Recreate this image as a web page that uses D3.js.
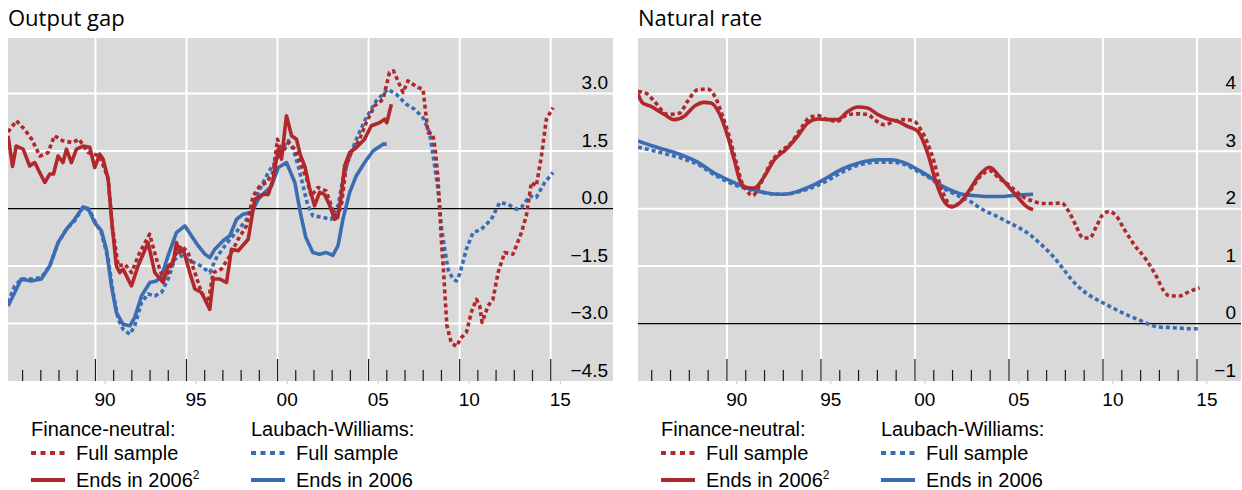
<!DOCTYPE html>
<html>
<head>
<meta charset="utf-8">
<script src="https://cdn.jsdelivr.net/npm/d3@7"></script>
<style>
  html, body { margin: 0; padding: 0; background: #fff; }
  svg { display: block; }
</style>
</head>
<body>
<div id="chart"></div>
<script>
// Output gap (percentage points), [year, value]
const gapFnFull = [
  [1985.2, 2.0], [1985.45, 2.15], [1985.66, 2.29], [1986.1, 2.07], [1986.5, 1.81],
  [1986.95, 1.37], [1987.4, 1.46], [1987.75, 1.9], [1988.2, 1.77], [1988.75, 1.72],
  [1989.1, 1.81], [1989.6, 1.46], [1990.24, 1.37], [1990.7, 0.77], [1990.92, -0.45],
  [1991.25, -1.5], [1991.62, -1.45], [1991.98, -1.67], [1992.43, -1.15], [1992.98, -0.67],
  [1993.35, -1.32], [1993.72, -1.84], [1993.99, -1.67], [1994.36, -1.23], [1994.73, -0.97],
  [1995.09, -1.15], [1995.46, -1.67], [1995.82, -2.19], [1996.19, -2.45], [1996.47, -1.67],
  [1996.92, -1.58], [1997.38, -1.23], [1997.84, -0.8], [1998.3, -0.45], [1998.66, 0.33],
  [1999.03, 0.59], [1999.4, 0.68], [1999.76, 0.94], [2000.0, 1.81], [2000.22, 1.42],
  [2000.59, 1.72], [2000.95, 1.55], [2001.32, 1.11], [2001.6, 0.77], [2001.85, 0.33],
  [2002.22, 0.55], [2002.67, 0.46], [2002.95, 0.07], [2003.22, -0.28], [2003.5, 0.07],
  [2003.77, 1.11], [2004.05, 1.46], [2004.51, 1.81], [2004.87, 2.24], [2005.33, 2.68],
  [2005.79, 2.85], [2006.15, 3.55], [2006.37, 3.59], [2006.61, 3.33], [2006.89, 3.03],
  [2007.16, 3.33], [2007.44, 3.24], [2007.71, 3.16], [2007.99, 3.11], [2008.26, 1.98],
  [2008.53, 1.94], [2008.68, 1.46], [2008.81, 0.77], [2008.9, 0.07], [2008.99, -0.8],
  [2009.12, -1.67], [2009.23, -2.54], [2009.3, -3.06], [2009.54, -3.5], [2009.82, -3.6],
  [2010.09, -3.37], [2010.37, -3.23], [2010.64, -2.71], [2010.92, -2.37], [2011.1, -2.54],
  [2011.23, -2.97], [2011.56, -2.54], [2011.83, -2.37], [2012.11, -1.67], [2012.47, -1.15],
  [2012.93, -1.19], [2013.39, -0.63], [2013.66, -0.19], [2013.94, 0.68], [2014.21, 0.59],
  [2014.49, 1.37], [2014.76, 2.33], [2015.13, 2.63]
];

const gapFn2006 = [
  [1985.2, 1.9], [1985.45, 1.1], [1985.65, 1.63], [1986.03, 1.55], [1986.39, 1.11],
  [1986.67, 1.2], [1986.94, 0.94], [1987.22, 0.68], [1987.49, 0.9], [1987.7, 0.9],
  [1987.95, 1.37], [1988.22, 1.2], [1988.41, 1.55], [1988.68, 1.2], [1988.96, 1.55],
  [1989.32, 1.63], [1989.69, 1.6], [1989.96, 1.07], [1990.24, 1.42], [1990.42, 1.29],
  [1990.7, 0.77], [1990.92, -0.45], [1991.15, -1.5], [1991.34, -1.67], [1991.52, -1.58],
  [1991.98, -2.02], [1992.34, -1.5], [1992.89, -0.89], [1993.26, -1.67], [1993.72, -1.93],
  [1993.99, -1.5], [1994.27, -1.41], [1994.45, -0.89], [1994.63, -1.15], [1994.82, -1.06],
  [1995.18, -1.67], [1995.46, -2.1], [1995.82, -2.19], [1996.28, -2.63], [1996.47, -1.84],
  [1996.83, -1.84], [1997.2, -1.93], [1997.47, -1.06], [1997.84, -1.1], [1998.39, -0.8],
  [1998.75, 0.24], [1999.21, 0.37], [1999.49, 0.37], [1999.76, 0.77], [2000.04, 1.55],
  [2000.22, 1.29], [2000.49, 2.42], [2000.77, 1.9], [2001.04, 1.81], [2001.25, 1.4],
  [2001.5, 1.1], [2001.75, 0.55], [2002.03, 0.07], [2002.31, 0.42], [2002.58, 0.37],
  [2002.85, 0.1], [2003.13, -0.28], [2003.3, -0.23], [2003.5, 0.33], [2003.68, 1.11],
  [2003.96, 1.46], [2004.23, 1.55], [2004.78, 1.81], [2005.15, 2.16], [2005.6, 2.24],
  [2005.88, 2.33], [2006.0, 2.24], [2006.25, 2.72]
];

const gapLwFull = [
  [1985.2, -2.45], [1985.57, -2.02], [1985.93, -1.84], [1986.48, -1.84], [1987.03, -1.8],
  [1987.49, -1.5], [1987.95, -0.89], [1988.41, -0.54], [1988.86, -0.32], [1989.32, 0.03],
  [1989.69, -0.05], [1990.05, -0.41], [1990.33, -0.63], [1990.7, -1.32], [1990.97, -2.19],
  [1991.25, -2.89], [1991.52, -3.15], [1991.89, -3.28], [1992.16, -3.06], [1992.53, -2.45],
  [1992.89, -2.23], [1993.26, -2.28], [1993.63, -2.19], [1993.99, -1.84], [1994.36, -1.32],
  [1994.73, -1.23], [1995.18, -1.37], [1995.64, -1.45], [1996.01, -1.58], [1996.28, -1.67],
  [1996.65, -1.28], [1997.11, -0.97], [1997.56, -0.71], [1998.02, -0.45], [1998.39, -0.23],
  [1998.75, 0.2], [1999.12, 0.59], [1999.49, 0.94], [1999.85, 1.2], [2000.22, 1.55],
  [2000.59, 1.77], [2000.86, 1.55], [2001.14, 1.1], [2001.4, 0.6], [2001.65, 0.1],
  [2001.94, -0.19], [2002.49, -0.23], [2002.95, -0.28], [2003.32, 0.07], [2003.59, 0.77],
  [2003.96, 1.37], [2004.41, 1.9], [2004.87, 2.37], [2005.42, 2.81], [2006.06, 3.11],
  [2006.52, 2.98], [2007.07, 2.72], [2007.53, 2.59], [2007.99, 2.37], [2008.35, 1.98],
  [2008.63, 1.11], [2008.81, 0.5], [2008.99, -0.45], [2009.18, -1.06], [2009.36, -1.58],
  [2009.63, -1.84], [2009.82, -1.89], [2010.0, -1.71], [2010.37, -1.06], [2010.73, -0.63],
  [2011.19, -0.54], [2011.74, -0.28], [2012.2, 0.16], [2012.66, 0.11], [2013.11, -0.02],
  [2013.39, 0.03], [2013.85, 0.33], [2014.21, 0.29], [2014.67, 0.68], [2015.13, 0.94]
];

const gapLw2006 = [
  [1985.2, -2.54], [1985.57, -2.19], [1985.93, -1.84], [1986.48, -1.89], [1987.03, -1.84],
  [1987.49, -1.5], [1987.95, -0.89], [1988.41, -0.54], [1988.86, -0.28], [1989.32, 0.04],
  [1989.6, 0.0], [1989.96, -0.37], [1990.33, -0.58], [1990.6, -1.06], [1990.88, -2.02],
  [1991.15, -2.71], [1991.52, -3.02], [1991.89, -3.06], [1992.16, -2.84], [1992.53, -2.28],
  [1992.99, -1.93], [1993.35, -1.89], [1993.63, -1.76], [1993.99, -1.23], [1994.45, -0.63],
  [1994.91, -0.45], [1995.27, -0.71], [1995.64, -0.97], [1996.01, -1.19], [1996.28, -1.28],
  [1996.56, -1.06], [1997.01, -0.84], [1997.38, -0.71], [1997.75, -0.28], [1998.11, -0.15],
  [1998.57, -0.1], [1998.94, 0.24], [1999.3, 0.42], [1999.67, 0.59], [2000.04, 1.07],
  [2000.49, 1.2], [2000.95, 0.68], [2001.25, -0.1], [2001.55, -0.75], [2001.94, -1.15],
  [2002.31, -1.19], [2002.67, -1.15], [2003.04, -1.22], [2003.32, -0.97], [2003.59, -0.28],
  [2003.96, 0.42], [2004.32, 0.85], [2004.78, 1.2], [2005.24, 1.5], [2005.79, 1.68],
  [2006.0, 1.68]
];

// Natural rate (per cent)
const rateFnFull = [
  [1985.27, 4.04], [1985.69, 4.01], [1986.13, 3.87], [1986.84, 3.64], [1987.46, 3.66],
  [1987.91, 3.87], [1988.44, 4.07], [1988.97, 4.08], [1989.41, 3.92], [1989.77, 3.61],
  [1990.12, 3.26], [1990.5, 2.8], [1990.8, 2.45], [1991.01, 2.33], [1991.37, 2.23],
  [1991.81, 2.45], [1992.34, 2.8], [1992.87, 3.0], [1993.4, 3.14], [1993.94, 3.4],
  [1994.38, 3.58], [1994.82, 3.62], [1995.35, 3.55], [1995.89, 3.52], [1996.42, 3.64],
  [1996.95, 3.65], [1997.48, 3.64], [1997.84, 3.55], [1998.37, 3.46], [1998.9, 3.52],
  [1999.43, 3.55], [1999.96, 3.52], [2000.32, 3.37], [2000.67, 3.14], [2001.03, 2.8],
  [2001.3, 2.45], [2001.6, 2.2], [2001.93, 2.04], [2002.38, 2.1], [2002.91, 2.3],
  [2003.44, 2.55], [2003.97, 2.66], [2004.5, 2.52], [2005.04, 2.4], [2005.48, 2.27],
  [2005.83, 2.19], [2006.28, 2.13], [2006.81, 2.09], [2007.34, 2.09], [2007.78, 2.1],
  [2008.23, 1.92], [2008.58, 1.69], [2008.94, 1.49], [2009.29, 1.49], [2009.65, 1.69],
  [2010.0, 1.9], [2010.35, 1.95], [2010.71, 1.87], [2011.15, 1.63], [2011.6, 1.4],
  [2012.3, 1.11], [2012.84, 0.82], [2013.19, 0.59], [2013.55, 0.48], [2014.08, 0.48],
  [2014.61, 0.56], [2015.14, 0.62]
];

const rateFn2006 = [
  [1985.27, 4.0], [1985.51, 3.84], [1985.96, 3.78], [1986.67, 3.64], [1987.2, 3.55],
  [1987.73, 3.61], [1988.26, 3.78], [1988.79, 3.85], [1989.15, 3.84], [1989.59, 3.66],
  [1990.04, 3.26], [1990.39, 2.85], [1990.74, 2.45], [1991.1, 2.36], [1991.45, 2.36],
  [1991.99, 2.56], [1992.52, 2.85], [1993.14, 3.03], [1993.76, 3.26], [1994.29, 3.49],
  [1994.82, 3.56], [1995.35, 3.55], [1995.89, 3.55], [1996.42, 3.69], [1996.95, 3.77],
  [1997.48, 3.75], [1998.01, 3.64], [1998.55, 3.56], [1999.08, 3.52], [1999.61, 3.43],
  [2000.14, 3.35], [2000.67, 2.97], [2001.13, 2.45], [2001.49, 2.16], [2001.93, 2.03],
  [2002.38, 2.1], [2002.91, 2.33], [2003.44, 2.59], [2003.97, 2.72], [2004.5, 2.56],
  [2005.04, 2.36], [2005.57, 2.16], [2005.92, 2.04], [2006.28, 1.98]
];

const rateLwFull = [
  [1985.27, 3.07], [1985.96, 3.02], [1986.67, 2.96], [1987.55, 2.88], [1988.44, 2.77],
  [1989.33, 2.59], [1990.21, 2.44], [1990.92, 2.36], [1991.63, 2.3], [1992.34, 2.26],
  [1993.05, 2.25], [1993.76, 2.29], [1994.47, 2.36], [1995.18, 2.46], [1995.89, 2.59],
  [1996.6, 2.71], [1997.3, 2.78], [1998.01, 2.81], [1998.72, 2.81], [1999.43, 2.77],
  [2000.14, 2.65], [2000.85, 2.52], [2001.49, 2.36], [2002.2, 2.24], [2002.91, 2.13],
  [2003.62, 1.98], [2004.33, 1.87], [2005.04, 1.75], [2005.57, 1.66], [2006.1, 1.55],
  [2006.63, 1.4], [2006.99, 1.29], [2007.34, 1.17], [2007.7, 1.03], [2008.05, 0.88],
  [2008.4, 0.74], [2008.76, 0.62], [2009.29, 0.49], [2009.82, 0.39], [2010.35, 0.3],
  [2010.89, 0.21], [2011.42, 0.13], [2011.95, 0.06], [2012.48, -0.02], [2013.01, -0.06],
  [2013.55, -0.07], [2014.08, -0.08], [2014.61, -0.09], [2015.14, -0.09]
];

const rateLw2006 = [
  [1985.27, 3.18], [1985.96, 3.1], [1986.67, 3.03], [1987.55, 2.94], [1988.44, 2.81],
  [1989.33, 2.62], [1990.21, 2.48], [1990.92, 2.38], [1991.63, 2.31], [1992.34, 2.26],
  [1993.05, 2.25], [1993.76, 2.3], [1994.47, 2.39], [1995.18, 2.51], [1995.89, 2.65],
  [1996.6, 2.75], [1997.3, 2.82], [1998.01, 2.85], [1998.72, 2.85], [1999.43, 2.8],
  [2000.14, 2.68], [2000.85, 2.54], [2001.31, 2.42], [2001.84, 2.33], [2002.38, 2.26],
  [2003.09, 2.23], [2003.79, 2.21], [2004.5, 2.21], [2005.21, 2.23], [2005.74, 2.24],
  [2006.28, 2.25]
];

const gapTicks = [-4.5, -3, -1.5, 0, 1.5, 3];
const rateTicks = [-1, 0, 1, 2, 3, 4];
const yearLabels = [1990, 1995, 2000, 2005, 2010, 2015];
const legendGroups = ['Finance-neutral:', 'Laubach-Williams:'];
const legendItems = ['Full sample', 'Ends in 2006'];

const twoPanelChart = (() => {
  let svg;

  const defaultProps = {
      width: 1242,
      height: 490,
      top: 38,
      bottom: 381,
      red: '#b0282c',
      blue: '#3b6db4',
      grid: '#ffffff',
      plotFill: '#d9d9d9',
      labelFont: '"Liberation Sans", Arial, sans-serif',
      titleFont: '"Open Sans", "Noto Sans", sans-serif'
    },

    chart = {
      /**
       * Initialization
       * @param {Node} el Target DOM node
       * @param {Array} panels Panel definitions
       */
      create: function(el, panels) {
        this.props = Object.assign({}, defaultProps);
        this._makeSvg(el);
        panels.forEach(p => this._drawPanel(p));
      },

      _makeSvg(el) {
        const {width, height} = this.props;
        svg = d3.select(el).append('svg')
          .attr('width', width)
          .attr('height', height);
        svg.append('rect')
          .attr('width', width)
          .attr('height', height)
          .attr('fill', '#fff');
      },

      /**
       * Draw one panel: background, grid, ticks, lines, legend
       * @param {Object} p Panel definition
       */
      _drawPanel(p) {
        const {top, bottom, grid, plotFill, labelFont, titleFont} = this.props,
          x = d3.scaleLinear().domain(p.xDomain).range([p.left, p.right]),
          y = d3.scaleLinear().domain(p.yDomain).range([bottom, top]),
          g = svg.append('g');

        g.append('text')
          .attr('x', p.left)
          .attr('y', 26)
          .attr('font-family', titleFont)
          .attr('font-size', 22)
          .attr('fill', '#000')
          .text(p.title);

        g.append('rect')
          .attr('x', p.left)
          .attr('y', top)
          .attr('width', p.right - p.left)
          .attr('height', bottom - top)
          .attr('fill', plotFill);

        // vertical grid at the start of each fifth year
        g.selectAll('.vgrid')
          .data(yearLabels)
          .enter().append('line')
          .attr('x1', d => x(d))
          .attr('x2', d => x(d))
          .attr('y1', top)
          .attr('y2', bottom)
          .attr('stroke', grid)
          .attr('stroke-width', 2);

        g.selectAll('.hgrid')
          .data(p.yTicks.filter(d => d !== 0 && d !== p.yDomain[0]))
          .enter().append('line')
          .attr('x1', p.left)
          .attr('x2', p.right)
          .attr('y1', d => y(d))
          .attr('y2', d => y(d))
          .attr('stroke', grid)
          .attr('stroke-width', 2);

        g.append('line')
          .attr('x1', p.left)
          .attr('x2', p.right)
          .attr('y1', y(0))
          .attr('y2', y(0))
          .attr('stroke', '#000')
          .attr('stroke-width', 1.3);

        // yearly tick marks rising from the bottom edge
        g.selectAll('.ytick')
          .data(d3.range(1986, 2016))
          .enter().append('line')
          .attr('x1', d => x(d))
          .attr('x2', d => x(d))
          .attr('y1', d => d % 5 === 0 ? bottom - 22 : bottom - 11)
          .attr('y2', bottom)
          .attr('stroke', '#1a1a1a')
          .attr('stroke-width', 1.2);

        // year labels, centred on the year
        const xAxis = d3.axisBottom(x)
          .tickValues(yearLabels.map(d => d + 0.5))
          .tickSize(3)
          .tickPadding(9)
          .tickFormat(d => String(Math.floor(d) % 100).padStart(2, '0'));
        g.append('g')
          .attr('transform', 'translate(0,' + bottom + ')')
          .call(xAxis)
          .call(a => a.select('.domain').remove())
          .call(a => a.selectAll('line').attr('stroke', '#c8c8c8'))
          .call(a => a.selectAll('text')
            .attr('font-family', labelFont)
            .attr('font-size', 19)
            .attr('fill', '#000'));

        // value labels sit inside the plot, just above their gridline
        const yAxis = d3.axisLeft(y)
          .tickValues(p.yTicks)
          .tickSize(0)
          .tickPadding(0)
          .tickFormat(p.yFormat);
        g.append('g')
          .attr('transform', 'translate(' + (p.right - 5) + ',0)')
          .call(yAxis)
          .call(a => a.select('.domain').remove())
          .call(a => a.selectAll('text')
            .attr('dy', null)
            .attr('y', -5)
            .attr('font-family', labelFont)
            .attr('font-size', 19)
            .attr('fill', '#000'));

        this._drawLines(g, p, x, y);
        this._drawLegend(g, p);
      },

      _drawLines(g, p, x, y) {
        const {top, bottom} = this.props,
          clipId = 'clip-' + p.left,
          line = d3.line()
            .x(d => x(d[0]))
            .y(d => y(d[1]))
            .curve(p.curve);

        g.append('clipPath')
          .attr('id', clipId)
          .append('rect')
          .attr('x', p.left)
          .attr('y', top)
          .attr('width', p.right - p.left)
          .attr('height', bottom - top);

        g.append('g')
          .attr('clip-path', 'url(#' + clipId + ')')
          .selectAll('path')
          .data(p.series)
          .enter().append('path')
          .attr('d', s => line(s.values))
          .attr('fill', 'none')
          .attr('stroke', s => this.props[s.color])
          .attr('stroke-width', 3.6)
          .attr('stroke-linejoin', 'round')
          .attr('stroke-dasharray', s => s.dashed ? '4,3' : null);
      },

      _drawLegend(g, p) {
        const {labelFont} = this.props,
          colors = ['red', 'blue'];

        legendGroups.forEach((name, gi) => {
          const lx = p.legendX + gi * 220,
            legend = g.append('g')
              .attr('font-family', labelFont)
              .attr('font-size', 20)
              .attr('fill', '#000');

          legend.append('text')
            .attr('x', lx)
            .attr('y', 436)
            .text(name);

          legend.selectAll('.legendItem')
            .data(legendItems)
            .enter().append('g')
            .each(function(label, i) {
              const cell = d3.select(this),
                ly = 453 + i * 27;
              cell.append('line')
                .attr('x1', lx)
                .attr('x2', lx + 34)
                .attr('y1', ly)
                .attr('y2', ly)
                .attr('stroke', defaultProps[colors[gi]])
                .attr('stroke-width', 4)
                .attr('stroke-dasharray', i === 0 ? '5,4.5' : null);
              const t = cell.append('text')
                .attr('x', lx + 45)
                .attr('y', ly + 7)
                .text(label);
              if (gi === 0 && i === 1) {
                t.append('tspan')
                  .attr('font-size', 12)
                  .attr('dy', -8)
                  .text('2');
              }
            });
        });
      }
    };
  return chart;
})();

twoPanelChart.create(document.getElementById('chart'), [
  {
    title: 'Output gap',
    left: 8,
    right: 613,
    xDomain: [1985.2, 2018.42],
    yDomain: [-4.5, 4.45],
    yTicks: gapTicks,
    yFormat: d3.format('.1f'),
    curve: d3.curveLinear,
    legendX: 31,
    series: [
      {values: gapLwFull, color: 'blue', dashed: true},
      {values: gapLw2006, color: 'blue', dashed: false},
      {values: gapFnFull, color: 'red', dashed: true},
      {values: gapFn2006, color: 'red', dashed: false}
    ]
  },
  {
    title: 'Natural rate',
    left: 638,
    right: 1241,
    xDomain: [1985.27, 2017.34],
    yDomain: [-1, 4.97],
    yTicks: rateTicks,
    yFormat: d3.format('d'),
    curve: d3.curveMonotoneX,
    legendX: 661,
    series: [
      {values: rateLwFull, color: 'blue', dashed: true},
      {values: rateLw2006, color: 'blue', dashed: false},
      {values: rateFnFull, color: 'red', dashed: true},
      {values: rateFn2006, color: 'red', dashed: false}
    ]
  }
]);
</script>
</body>
</html>
